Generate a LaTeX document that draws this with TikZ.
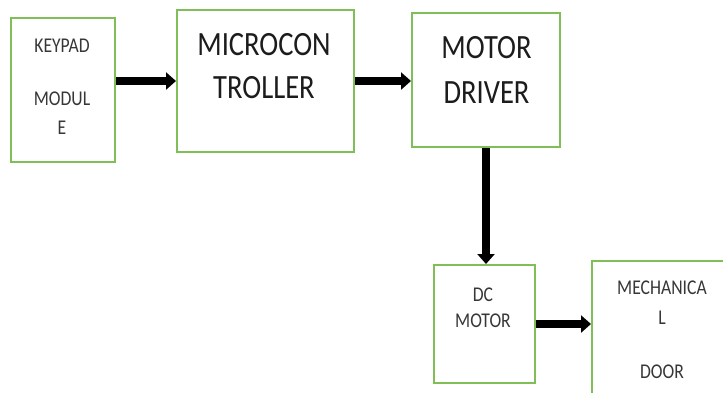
\documentclass[tikz,border=0pt]{standalone}
\usepackage{fontspec}
\newfontfamily\cfont[FakeStretch=0.84]{Carlito}
\usetikzlibrary{arrows.meta}
\definecolor{boxgreen}{RGB}{128,190,88}
\definecolor{txtbig}{RGB}{28,28,28}
\definecolor{txtsmall}{RGB}{55,55,55}
\tikzset{
  blockbox/.style={draw=boxgreen, line width=2pt, fill=white, inner sep=0pt},
  bigtxt/.style={text=txtbig, inner sep=0pt, font=\cfont\fontsize{34}{40}\selectfont},
  smalltxt/.style={text=txtsmall, inner sep=0pt, font=\cfont\fontsize{21}{25}\selectfont},
  arr/.style={line width=8pt, -{Triangle[length=10pt,width=17pt]}}
}
\begin{document}
\begin{tikzpicture}[x=1pt,y=-1pt]
\useasboundingbox (0,0) rectangle (723,392);
\clip (0,0) rectangle (723,392);
\node[blockbox, minimum width=104pt, minimum height=144pt] (K) at (63,90) {};
\node[blockbox, minimum width=177pt, minimum height=142pt] (M) at (265.5,81) {};
\node[blockbox, minimum width=148pt, minimum height=134pt] (D) at (486,80) {};
\node[blockbox, minimum width=101pt, minimum height=118pt] (C) at (484.5,324) {};
\node[blockbox, minimum width=140pt, minimum height=150pt] (Door) at (662,336) {};

\node[smalltxt] (k1) at (62,46) {KEYPAD};
\node[smalltxt] (k2) at (62,99) {MODUL};
\node[smalltxt] (k3) at (62,128) {E};

\node[bigtxt] (m1) at (264,45) {MICROCON};
\node[bigtxt] (m2) at (264,88) {TROLLER};

\node[bigtxt] (d1) at (486.5,48) {MOTOR};
\node[bigtxt] (d2) at (486.5,93) {DRIVER};

\node[smalltxt] (c1) at (483,295) {DC};
\node[smalltxt] (c2) at (483,321) {MOTOR};

\node[smalltxt] (e1) at (662,288) {MECHANICA};
\node[smalltxt] (e2) at (662,318) {L};
\node[smalltxt] (e3) at (662,372) {DOOR};

\draw[arr] (K.east |- M.west) -- (M.west);
\draw[arr] (M.east) -- (M.east -| D.west);
\draw[arr] (D.south) -- (D.south |- C.north);
\draw[arr] (C.east) -- (C.east -| Door.west);
\end{tikzpicture}
\end{document}
